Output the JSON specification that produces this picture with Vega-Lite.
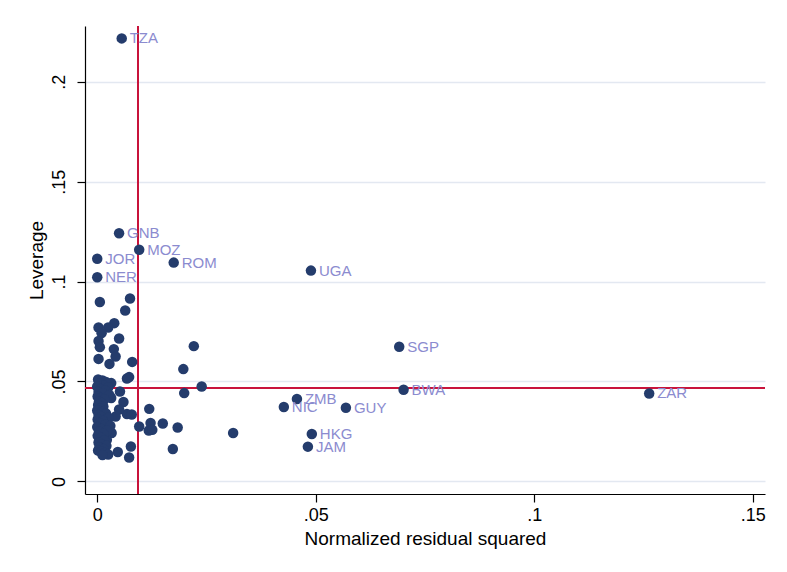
{
  "$schema": "https://vega.github.io/schema/vega-lite/v6.json",
  "width": 680,
  "height": 468,
  "autosize": {"type": "none"},
  "padding": {"left": 85, "top": 26, "right": 22, "bottom": 78},
  "background": "white",
  "config": {
    "view": {"stroke": null},
    "font": "Liberation Sans",
    "axis": {"labelFont": "Liberation Sans", "titleFont": "Liberation Sans", "labelColor": "black", "titleColor": "black", "titleFontWeight": "normal", "domainColor": "black", "tickColor": "black", "domainWidth": 1.2, "tickWidth": 1.2}
  },
  "data": {
    "values": [
      {"r": 0.0056, "lev": 0.2217, "c": "TZA"},
      {"r": 0.0050, "lev": 0.1242, "c": "GNB"},
      {"r": 0.0096, "lev": 0.1159, "c": "MOZ"},
      {"r": 0.0000, "lev": 0.1114, "c": "JOR"},
      {"r": 0.0175, "lev": 0.1095, "c": "ROM"},
      {"r": 0.0000, "lev": 0.1022, "c": "NER"},
      {"r": 0.0489, "lev": 0.1055, "c": "UGA"},
      {"r": 0.0691, "lev": 0.0674, "c": "SGP"},
      {"r": 0.0701, "lev": 0.0459, "c": "BWA"},
      {"r": 0.1263, "lev": 0.0440, "c": "ZAR"},
      {"r": 0.0457, "lev": 0.0412, "c": "ZMB"},
      {"r": 0.0427, "lev": 0.0372, "c": "NIC"},
      {"r": 0.0569, "lev": 0.0369, "c": "GUY"},
      {"r": 0.0491, "lev": 0.0237, "c": "HKG"},
      {"r": 0.0482, "lev": 0.0174, "c": "JAM"},
      {"r": 0.0006, "lev": 0.0898, "c": ""},
      {"r": 0.0075, "lev": 0.0915, "c": ""},
      {"r": 0.0064, "lev": 0.0855, "c": ""},
      {"r": 0.0003, "lev": 0.0770, "c": ""},
      {"r": 0.0039, "lev": 0.0792, "c": ""},
      {"r": 0.0025, "lev": 0.0770, "c": ""},
      {"r": 0.0010, "lev": 0.0742, "c": ""},
      {"r": 0.0003, "lev": 0.0703, "c": ""},
      {"r": 0.0006, "lev": 0.0672, "c": ""},
      {"r": 0.0050, "lev": 0.0715, "c": ""},
      {"r": 0.0038, "lev": 0.0662, "c": ""},
      {"r": 0.0042, "lev": 0.0625, "c": ""},
      {"r": 0.0003, "lev": 0.0613, "c": ""},
      {"r": 0.0028, "lev": 0.0588, "c": ""},
      {"r": 0.0080, "lev": 0.0598, "c": ""},
      {"r": 0.0221, "lev": 0.0677, "c": ""},
      {"r": 0.0197, "lev": 0.0562, "c": ""},
      {"r": 0.0073, "lev": 0.0522, "c": ""},
      {"r": 0.0068, "lev": 0.0515, "c": ""},
      {"r": 0.0239, "lev": 0.0475, "c": ""},
      {"r": 0.0199, "lev": 0.0442, "c": ""},
      {"r": 0.0119, "lev": 0.0363, "c": ""},
      {"r": 0.0096, "lev": 0.0275, "c": ""},
      {"r": 0.0122, "lev": 0.0292, "c": ""},
      {"r": 0.0118, "lev": 0.0255, "c": ""},
      {"r": 0.0126, "lev": 0.0258, "c": ""},
      {"r": 0.0150, "lev": 0.0290, "c": ""},
      {"r": 0.0184, "lev": 0.0270, "c": ""},
      {"r": 0.0311, "lev": 0.0242, "c": ""},
      {"r": 0.0173, "lev": 0.0162, "c": ""},
      {"r": 0.0077, "lev": 0.0175, "c": ""},
      {"r": 0.0047, "lev": 0.0147, "c": ""},
      {"r": 0.0073, "lev": 0.0120, "c": ""},
      {"r": 0.0032, "lev": 0.0492, "c": ""},
      {"r": 0.0052, "lev": 0.0450, "c": ""},
      {"r": 0.0032, "lev": 0.0417, "c": ""},
      {"r": 0.0060, "lev": 0.0397, "c": ""},
      {"r": 0.0068, "lev": 0.0337, "c": ""},
      {"r": 0.0042, "lev": 0.0325, "c": ""},
      {"r": 0.0079, "lev": 0.0335, "c": ""},
      {"r": 0.0033, "lev": 0.0242, "c": ""},
      {"r": 0.0022, "lev": 0.0208, "c": ""},
      {"r": 0.0050, "lev": 0.0360, "c": ""},
      {"r": 0.0002, "lev": 0.0510, "c": ""},
      {"r": 0.0012, "lev": 0.0505, "c": ""},
      {"r": 0.0020, "lev": 0.0498, "c": ""},
      {"r": 0.0005, "lev": 0.0490, "c": ""},
      {"r": 0.0015, "lev": 0.0480, "c": ""},
      {"r": 0.0000, "lev": 0.0475, "c": ""},
      {"r": 0.0025, "lev": 0.0470, "c": ""},
      {"r": 0.0008, "lev": 0.0462, "c": ""},
      {"r": 0.0018, "lev": 0.0455, "c": ""},
      {"r": 0.0003, "lev": 0.0448, "c": ""},
      {"r": 0.0012, "lev": 0.0440, "c": ""},
      {"r": 0.0028, "lev": 0.0432, "c": ""},
      {"r": 0.0001, "lev": 0.0425, "c": ""},
      {"r": 0.0008, "lev": 0.0418, "c": ""},
      {"r": 0.0016, "lev": 0.0410, "c": ""},
      {"r": 0.0004, "lev": 0.0400, "c": ""},
      {"r": 0.0010, "lev": 0.0392, "c": ""},
      {"r": 0.0002, "lev": 0.0382, "c": ""},
      {"r": 0.0014, "lev": 0.0375, "c": ""},
      {"r": 0.0006, "lev": 0.0365, "c": ""},
      {"r": 0.0000, "lev": 0.0355, "c": ""},
      {"r": 0.0011, "lev": 0.0348, "c": ""},
      {"r": 0.0020, "lev": 0.0340, "c": ""},
      {"r": 0.0003, "lev": 0.0332, "c": ""},
      {"r": 0.0009, "lev": 0.0322, "c": ""},
      {"r": 0.0026, "lev": 0.0318, "c": ""},
      {"r": 0.0001, "lev": 0.0310, "c": ""},
      {"r": 0.0013, "lev": 0.0302, "c": ""},
      {"r": 0.0005, "lev": 0.0292, "c": ""},
      {"r": 0.0019, "lev": 0.0285, "c": ""},
      {"r": 0.0030, "lev": 0.0278, "c": ""},
      {"r": 0.0000, "lev": 0.0272, "c": ""},
      {"r": 0.0010, "lev": 0.0262, "c": ""},
      {"r": 0.0022, "lev": 0.0255, "c": ""},
      {"r": 0.0004, "lev": 0.0248, "c": ""},
      {"r": 0.0014, "lev": 0.0238, "c": ""},
      {"r": 0.0001, "lev": 0.0228, "c": ""},
      {"r": 0.0008, "lev": 0.0218, "c": ""},
      {"r": 0.0016, "lev": 0.0205, "c": ""},
      {"r": 0.0003, "lev": 0.0195, "c": ""},
      {"r": 0.0011, "lev": 0.0185, "c": ""},
      {"r": 0.0021, "lev": 0.0178, "c": ""},
      {"r": 0.0005, "lev": 0.0170, "c": ""},
      {"r": 0.0014, "lev": 0.0162, "c": ""},
      {"r": 0.0002, "lev": 0.0155, "c": ""},
      {"r": 0.0009, "lev": 0.0148, "c": ""},
      {"r": 0.0018, "lev": 0.0142, "c": ""},
      {"r": 0.0025, "lev": 0.0135, "c": ""},
      {"r": 0.0012, "lev": 0.0132, "c": ""}
    ]
  },
  "encoding": {
    "x": {
      "field": "r", "type": "quantitative",
      "scale": {"domain": [-0.0028, 0.1528], "nice": false, "zero": false},
      "axis": {"title": "Normalized residual squared", "values": [0, 0.05, 0.1, 0.15], "labelExpr": "replace(format(datum.value, '~g'), /^0\\./, '.')", "grid": false, "tickSize": 8, "labelPadding": 4, "labelFontSize": 18, "titleFontSize": 19, "titlePadding": 5, "labelFlush": false}
    },
    "y": {
      "field": "lev", "type": "quantitative",
      "scale": {"domain": [-0.0063, 0.2279], "nice": false, "zero": false},
      "axis": {"title": "Leverage", "values": [0, 0.05, 0.1, 0.15, 0.2], "labelExpr": "replace(format(datum.value, '~g'), /^0\\./, '.')", "grid": true, "gridColor": "#e3e8f1", "gridWidth": 1.5, "tickSize": 8, "labelAngle": -90, "labelAlign": "center", "labelBaseline": "bottom", "labelPadding": 9, "labelFontSize": 18, "titleFontSize": 19, "titlePadding": 4, "labelFlush": false}
    }
  },
  "layer": [
    {
      "mark": {"type": "rule", "color": "#c8143c", "strokeWidth": 1.6},
      "encoding": {"x": {"datum": 0.009346}, "y": null}
    },
    {
      "mark": {"type": "rule", "color": "#c8143c", "strokeWidth": 1.6},
      "encoding": {"y": {"datum": 0.04673}, "x": null}
    },
    {
      "mark": {"type": "point", "filled": true, "size": 110, "color": "#243c6c", "opacity": 1}
    },
    {
      "transform": [{"filter": "datum.c != ''"}],
      "mark": {"type": "text", "align": "left", "baseline": "middle", "dx": 8, "fontSize": 15, "color": "#8b8bcf", "font": "Liberation Sans"},
      "encoding": {"text": {"field": "c"}}
    }
  ]
}
